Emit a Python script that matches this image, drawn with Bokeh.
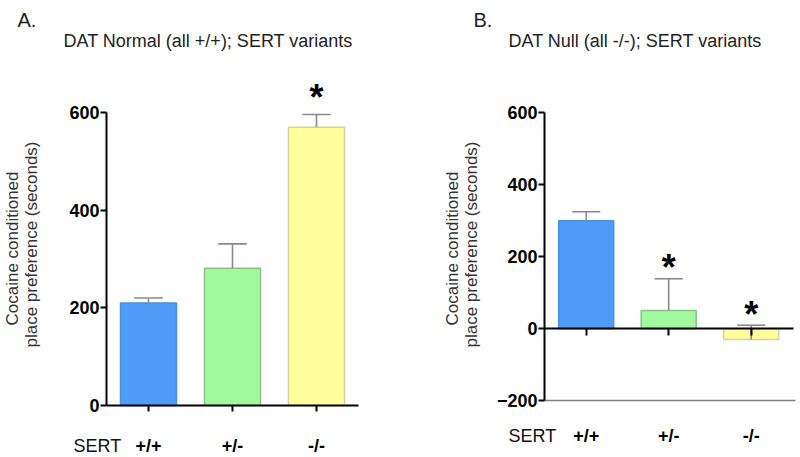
import math
from bokeh.plotting import figure
from bokeh.models import FixedTicker, LinearAxis, Range1d, ColumnDataSource
from bokeh.layouts import row
from bokeh.embed import file_html
from bokeh.resources import INLINE
from bokeh.core.properties import value

# ---- data ----
genotypes = ["+/+", "+/-", "-/-"]
positions = [1, 2, 3]
normal_means = [210, 281, 570]
normal_sems = [10, 50, 26]
normal_sig = [False, False, True]
null_means = [300, 51, -30]
null_sems = [25, 88, 40]
null_sig = [False, True, True]
bar_colors = ["#4F9CF7", "#A2F89D", "#FFFF9E"]
bar_lines = ["#4A90E2", "#8DBF89", "#D4D49A"]
normal_yticks = [0, 200, 400, 600]
null_yticks = [-200, 0, 200, 400, 600]
title_a = "DAT Normal (all +/+); SERT variants"
title_b = "DAT Null (all -/-); SERT variants"
ylabel_1 = "Cocaine conditioned"
ylabel_2 = "place preference (seconds)"

FONT = "Liberation Sans"
W, H = 400, 457
BASE_SHIFT = 0.38  # em offset between anchor and drawn baseline in the svg output


class Panel:
    """A figure whose frame fills the whole canvas; layout given by pixel calibration."""

    def __init__(self, x1_px, x_step_px, y0_px, y_px_per_unit):
        self.x1, self.xs, self.y0, self.k = x1_px, x_step_px, y0_px, y_px_per_unit
        xr = Range1d(self.dx(0), self.dx(W))
        yr = Range1d(self.dy(H), self.dy(0))
        p = figure(width=W, height=H, x_range=xr, y_range=yr, title=None,
                   x_axis_location=None, y_axis_location=None, toolbar_location=None,
                   output_backend="svg", min_border=0)
        p.outline_line_color = None
        p.grid.visible = False
        self.p = p

    def dx(self, px):
        return 1 + (px - self.x1) / self.xs

    def dy(self, py):
        return (self.y0 - py) / self.k

    def text(self, px, py, txt, size=18, style="normal", rotated=False,
             align="left", color="#222222"):
        shift = BASE_SHIFT * size
        if rotated:
            px -= shift
        else:
            py -= shift
        self.p.text(x=[self.dx(px)], y=[self.dy(py)], text=[txt],
                    text_font=value(FONT), text_font_size=f"{size}px",
                    text_font_style=style, text_color=color,
                    angle=math.pi / 2 if rotated else 0.0, text_align=align,
                    text_baseline="alphabetic")


def tick_axis(ticks, **kw):
    return LinearAxis(ticker=FixedTicker(ticks=ticks), minor_tick_in=0, minor_tick_out=0,
                      major_label_text_font=FONT, major_label_text_font_size="18px",
                      major_label_text_font_style="bold", major_label_text_color="black",
                      **kw)


def bars(panel, means, sems, sig, star_offset):
    p = panel.p
    err_top = [m + s for m, s in zip(means, sems)]
    src = ColumnDataSource(dict(x=positions, top=means, fill=bar_colors, line=bar_lines,
                                et=err_top,
                                c0=[x - 0.17 for x in positions],
                                c1=[x + 0.17 for x in positions]))
    p.vbar(x="x", width=0.667, top="top", bottom=0, fill_color="fill", line_color="line",
           line_width=1.5, source=src)
    p.segment(x0="x", y0="top", x1="x", y1="et", line_color="#8A8A8A", line_width=1.6,
              source=src)
    p.segment(x0="c0", y0="et", x1="c1", y1="et", line_color="#8A8A8A", line_width=1.6,
              source=src)
    sx = [x for x, s in zip(positions, sig) if s]
    sy = [e for e, s in zip(err_top, sig) if s]
    p.text(x=sx, y=sy, text=["*"] * len(sx), text_font=value(FONT),
           text_font_style="bold", text_font_size="36px", text_align="center",
           text_baseline="alphabetic", y_offset=star_offset, text_color="black")


overrides = {k: g for k, g in zip(positions, genotypes)}

# ---- Panel A ----
A = Panel(x1_px=148, x_step_px=84, y0_px=405, y_px_per_unit=293 / 600)
bars(A, normal_means, normal_sems, normal_sig, -17)
ya = tick_axis(normal_yticks, fixed_location=A.dx(106), bounds=(0, 600),
               axis_line_width=2, major_tick_out=6, major_tick_in=0,
               major_tick_line_width=2, major_label_standoff=1)
A.p.add_layout(ya, "left")
xa = tick_axis(positions, fixed_location=0, bounds=(A.dx(106), A.dx(358)),
               axis_line_width=2, major_tick_out=6, major_tick_in=0,
               major_tick_line_width=2, major_label_standoff=24,
               major_label_overrides=overrides)
A.p.add_layout(xa, "below")
A.text(17, 27, "A.", size=20)
A.text(63, 47, title_a)
A.text(18, 248, ylabel_1, size=17, rotated=True, align="center", color="#333333")
A.text(37, 244, ylabel_2, size=17, rotated=True, align="center", color="#333333")
A.text(73, 452, "SERT", color="#111111")

# ---- Panel B ----
B = Panel(x1_px=185.7, x_step_px=82.5, y0_px=328.3, y_px_per_unit=216 / 600)
bars(B, null_means, null_sems, null_sig, -11)
yb = tick_axis(null_yticks, fixed_location=B.dx(144), bounds=(-200, 600),
               axis_line_width=2, major_tick_out=6, major_tick_in=0,
               major_tick_line_width=2, major_label_standoff=1)
B.p.add_layout(yb, "left")
base_b = LinearAxis(ticker=FixedTicker(ticks=[]), fixed_location=-200,
                    bounds=(B.dx(144), B.dx(395)), axis_line_width=1.5,
                    axis_line_color="#7F7F7F", minor_tick_in=0, minor_tick_out=0)
B.p.add_layout(base_b, "below")
xb = tick_axis(positions, fixed_location=0, bounds=(B.dx(144), B.dx(393)),
               axis_line_width=2, major_tick_out=7, major_tick_in=0,
               major_tick_line_width=2, major_label_standoff=90,
               major_label_overrides=overrides)
B.p.add_layout(xb, "below")
B.text(73, 27, "B.", size=20)
B.text(108, 47, title_b)
B.text(58, 248, ylabel_1, size=17, rotated=True, align="center", color="#333333")
B.text(77, 244, ylabel_2, size=17, rotated=True, align="center", color="#333333")
B.text(108, 442, "SERT", color="#111111")

layout = row(A.p, B.p)
open("out.html", "w").write(file_html(layout, INLINE))
